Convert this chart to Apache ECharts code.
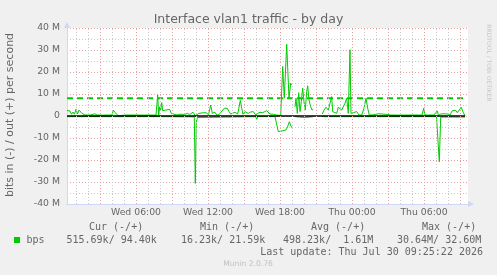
<!DOCTYPE html>
<html><head><meta charset="utf-8">
<script src="https://cdn.jsdelivr.net/npm/echarts@6/dist/echarts.min.js"></script>
<style>html,body{margin:0;padding:0;background:#f0f0f0;overflow:hidden}#c{width:497px;height:275px}</style>
</head><body><div id="c"></div>
<script>
// ---- data (time in hours since Wed 00:00, values in Mbit/s) ----
const titleText = 'Interface vlan1 traffic - by day';
const yAxisTitle = 'bits in (-) / out (+) per second';
const xMin = 0.25, xMax = 33.667;
const xLabelHours = [6, 12, 18, 24, 30];
const xLabelTexts = ['Wed 06:00', 'Wed 12:00', 'Wed 18:00', 'Thu 00:00', 'Thu 06:00'];
const gridHours = [1,2,3,4,5,6,7,8,9,10,11,12,13,14,15,16,17,18,19,20,21,22,23,24,25,26,27,28,29,30,31,32,33];
const yTicks = [-40, -30, -20, -10, 0, 10, 20, 30, 40];

const outHours = [0.25,0.375,0.5,0.625,0.75,0.875,1.0,1.125,1.25,1.375,1.5,1.625,1.75,2.167,2.583,2.75,3.25,3.667,4.0,4.108,4.25,4.375,4.5,4.625,5.083,5.667,6.333,7.0,7.667,7.808,7.892,7.975,8.058,8.142,8.225,8.333,8.458,8.608,8.808,8.942,9.083,9.417,9.667,10.058,10.275,10.475,10.75,10.875,10.942,11.108,11.25,11.5,11.833,12.042,12.225,12.358,12.458,12.583,12.725,12.917,13.083,13.358,13.475,13.608,13.75,13.892,14.058,14.25,14.475,14.692,14.808,14.917,15.083,15.225,15.358,15.558,15.775,15.975,16.142,16.333,16.558,16.692,16.892,17.025,17.167,17.442,17.725,17.858,18.058,18.225,18.358,18.558,18.75,18.892,18.975,19.1,19.25,19.333,19.442,19.558,19.667,19.775,19.892,20.0,20.108,20.225,20.308,20.417,20.558,20.667,20.775,21.0,21.525,21.667,21.833,22.025,22.167,22.308,22.392,22.525,22.725,22.858,23.0,23.142,23.275,23.417,23.558,23.692,23.833,23.917,24.108,24.25,24.392,24.583,24.808,25.0,25.167,25.308,25.442,25.667,26.192,26.333,27.0,27.167,28.0,28.833,29.833,29.975,30.083,30.833,30.958,31.108,31.208,31.392,31.5,31.667,31.833,32.0,32.167,32.358,32.5,32.642,32.775,32.917,33.108,33.25,33.417];
const outValues = [2.5,2.7,2.3,0.8,1.8,0.8,3.1,0.9,2.7,3.4,1.2,0.6,0.45,0.4,1.0,0.45,0.4,0.45,0.45,2.7,1.7,0.8,0.1,0.45,0.4,0.45,0.4,0.45,0.4,9.6,0.2,4.2,2.7,6.1,2.4,1.5,2.7,2.2,3.0,1.2,0.45,0.45,0.8,0.7,1.2,0.7,1.7,0.9,0.1,0.3,1.2,1.4,1.5,0.6,5.0,1.2,0.7,1.7,0.45,0.6,0.45,3.5,2.7,3.5,2.0,0.9,1.2,1.7,0.9,7.1,3.5,0.8,2.0,2.7,1.2,1.8,2.0,0.45,1.2,1.7,1.5,1.8,2.4,2.1,0.9,0.8,0.45,0.45,0.2,22.5,8.1,32.6,8.1,14.9,14.2,null,4.2,8.1,1.2,10.6,2.0,6.5,12.6,6.5,2.7,11.1,13.7,7.3,4.2,2.7,3.1,null,0.9,2.7,4.0,2.7,2.4,8.8,2.0,2.7,1.2,4.0,4.2,2.7,3.1,5.8,8.1,1.2,30.1,1.2,1.5,2.4,2.0,0.45,0.45,3.5,8.1,3.5,0.45,0.45,1.0,0.45,0.7,0.45,0.4,0.45,0.45,3.5,0.45,0.45,1.2,2.3,0.2,0.9,1.5,1.0,1.2,0.9,0.45,2.4,3.1,2.6,1.5,1.8,4.0,1.8,0.1];

const inHours = [0.25,4.417,4.5,4.583,7.808,7.892,7.975,10.858,10.942,11.025,11.108,11.208,15.975,16.058,16.142,17.583,17.858,18.0,18.167,18.333,18.5,18.625,18.775,18.875,18.975,19.1,19.25,20.0,20.333,20.775,21.0,21.525,31.042,31.275,31.392,33.417];
const inValues = [-0.3,-0.3,-0.9,-0.3,-0.3,-0.7,-0.3,-0.4,-30.64,-3.0,-0.7,-0.3,-0.3,-1.5,-0.3,-0.3,-7.1,-6.6,-6.8,-6.4,-6.3,-5.0,-2.6,-3.5,-5.3,null,-0.3,-0.7,-0.6,-0.3,null,-0.3,-0.3,-20.8,-0.5,-0.5];

const maxLineValue = 8.05;
const legendHeaders = ['Cur (-/+)', 'Min (-/+)', 'Avg (-/+)', 'Max (-/+)'];
const legendValues = ['515.69k/ 94.40k', '16.23k/ 21.59k', '498.23k/  1.61M', '30.64M/ 32.60M'];
const seriesName = 'bps';
const lastUpdate = 'Last update: Thu Jul 30 09:25:22 2026';
const watermark = 'Munin 2.0.76';
const sideText = 'RRDTOOL / TOBI OETIKER';

// ---- chart ----
const GREEN = '#00cc00';
const FONT = '#666666';
const AXIS = '#cfd6f8';
const zip = (xs, ys) => xs.map((x, i) => [x, ys[i]]);
const endHour = outHours[outHours.length - 1];

const chart = echarts.init(document.getElementById('c'), null, {renderer: 'canvas'});
const monoFont = '10px "DejaVu Sans Mono"';
const headerX = [89, 200, 311, 422];
const valueX = [66.5, 181, 283, 397];
const graphics = [
  {type: 'text', x: 248.5, y: 19.5, style: {text: titleText, font: '12.5px "DejaVu Sans"', fill: FONT, textAlign: 'center', textVerticalAlign: 'middle'}},
  {type: 'text', x: 10.5, y: 115, rotation: Math.PI / 2, style: {text: yAxisTitle, font: '11px "DejaVu Sans"', fill: FONT, textAlign: 'center', textVerticalAlign: 'middle'}},
  {type: 'text', x: 488.5, y: 63, rotation: -Math.PI / 2, style: {text: sideText, font: '6px "DejaVu Sans"', fill: '#c8c8c8', textAlign: 'center', textVerticalAlign: 'middle'}},
  {type: 'rect', shape: {x: 14, y: 237, width: 6, height: 6}, style: {fill: GREEN}},
  {type: 'text', x: 26.5, y: 240, style: {text: seriesName, font: monoFont, fill: FONT, textVerticalAlign: 'middle'}},
  {type: 'text', x: 483, y: 252, style: {text: lastUpdate, font: monoFont, fill: FONT, textAlign: 'right', textVerticalAlign: 'middle'}},
  {type: 'text', x: 248, y: 264, style: {text: watermark, font: '7.6px "DejaVu Sans"', fill: '#c0c0c0', textAlign: 'center', textVerticalAlign: 'middle'}}
];
legendHeaders.forEach((t, i) => graphics.push({type: 'text', x: headerX[i], y: 227.5, style: {text: t, font: monoFont, fill: FONT, textVerticalAlign: 'middle'}}));
legendValues.forEach((t, i) => graphics.push({type: 'text', x: valueX[i], y: 240, style: {text: t, font: monoFont, fill: FONT, textVerticalAlign: 'middle'}}));

chart.setOption({
  animation: false,
  backgroundColor: '#f0f0f0',
  grid: {left: 67, top: 28, width: 401, height: 176, show: true, backgroundColor: '#ffffff', borderWidth: 0},
  xAxis: {
    type: 'value', min: xMin, max: xMax,
    axisLine: {show: true, onZero: false, lineStyle: {color: AXIS, width: 1}, symbol: ['none', 'triangle'], symbolSize: [6, 6], symbolOffset: [0, 3]},
    axisTick: {show: false},
    splitLine: {show: false},
    axisLabel: {
      customValues: xLabelHours, margin: 4, color: FONT, fontFamily: 'DejaVu Sans', fontSize: 9.3,
      formatter: v => xLabelTexts[xLabelHours.indexOf(Math.round(v))] || ''
    }
  },
  yAxis: {
    type: 'value', min: -40, max: 40, interval: 10,
    axisLine: {show: true, onZero: false, lineStyle: {color: AXIS, width: 1}, symbol: ['none', 'triangle'], symbolSize: [6, 6], symbolOffset: [0, 3]},
    axisTick: {show: false},
    axisLabel: {margin: 7, color: FONT, fontFamily: 'DejaVu Sans', fontSize: 9.3, formatter: v => v === 0 ? '0' : v + ' M'},
    splitLine: {show: true, lineStyle: {color: '#eba0a0', type: [1, 2], width: 1}},
    minorTick: {show: false, splitNumber: 2},
    minorSplitLine: {show: true, lineStyle: {color: '#c8c8c8', type: [1, 2], width: 1}}
  },
  graphic: graphics,
  series: [
    {type: 'line', data: [], z: 1, silent: true,
     markLine: {silent: true, symbol: 'none', label: {show: false}, animation: false,
       data: gridHours.map(h => ({xAxis: h, lineStyle: {color: h % 3 === 0 ? '#eba0a0' : '#c8c8c8', type: [1, 2], width: 1}}))}},
    {name: 'in', type: 'line', data: zip(inHours, inValues), symbol: 'none', connectNulls: false, z: 3,
     lineStyle: {color: GREEN, width: 1}},
    {name: 'out', type: 'line', data: zip(outHours, outValues), symbol: 'none', connectNulls: false, z: 3,
     lineStyle: {color: GREEN, width: 1}},
    {name: 'max', type: 'line', data: [[xMin, maxLineValue], [endHour, maxLineValue]], symbol: 'none', z: 2,
     lineStyle: {color: GREEN, width: 2, type: [6, 4]}},
    {name: 'zero', type: 'line', data: [[xMin, 0], [endHour, 0]], symbol: 'none', z: 4,
     lineStyle: {color: '#000000', width: 1.5}}
  ]
});
</script>
</body></html>
